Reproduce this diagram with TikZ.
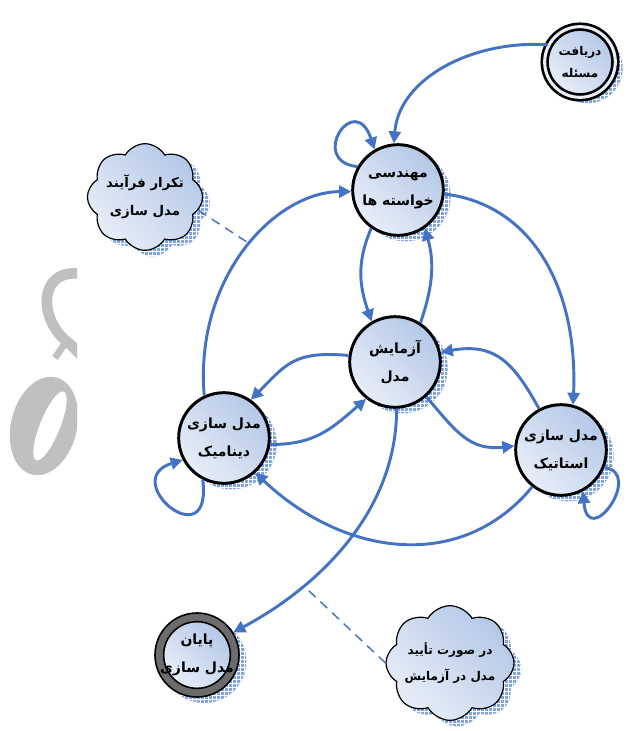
\documentclass[tikz,border=0pt]{standalone}
\usepackage{fontspec}
\newfontfamily\persianfont[Script=Arabic]{DejaVu Sans}
\TeXXeTstate=1
\usetikzlibrary{shapes.symbols, shadows, patterns, arrows.meta}
\newcommand{\fa}[1]{\beginR #1\endR}

\definecolor{flowblue}{RGB}{68,114,196}
\definecolor{nodedark}{RGB}{180,200,231}
\definecolor{nodelight}{RGB}{232,238,248}
\definecolor{shadowblue}{RGB}{132,164,220}
\definecolor{ringgray}{RGB}{108,108,108}
\definecolor{markgray}{RGB}{192,192,192}

\begin{document}
\begin{tikzpicture}[x=0.75pt, y=-0.75pt,
  bluefill/.style={top color=nodedark, bottom color=nodelight, shading angle=-45},
  shadowed/.style={drop shadow={shadow xshift=5.5pt, shadow yshift=-4.5pt, opacity=1,
      fill=shadowblue, postaction={pattern=grid, pattern color=white}}},
  fatext/.style={font=\persianfont\bfseries\fontsize{10.5}{21}\selectfont, align=center, text=black},
  state/.style={circle, draw=black, line width=2.2pt, minimum size=68pt, inner sep=0pt,
      bluefill, shadowed, fatext},
  startstate/.style={circle, draw=black, line width=2pt, double=nodelight, double distance=2.3pt,
      minimum size=53pt, inner sep=0pt, bluefill, shadowed, fatext,
      font=\persianfont\bfseries\fontsize{9}{17}\selectfont},
  cloudbox/.style={cloud, cloud puffs=8, cloud puff arc=120, cloud ignores aspect,
      draw=black, line width=0.9pt, inner sep=0pt, bluefill, shadowed, fatext,
      font=\persianfont\bfseries\fontsize{10}{21}\selectfont},
  arr/.style={draw=flowblue, line width=2.2pt, -{Triangle[length=9pt, width=9pt]}},
  dashline/.style={draw=flowblue, line width=1.1pt, dash pattern=on 7pt off 5pt}
]
% canvas
\fill[white] (0,0) rectangle (627,731);
\useasboundingbox (0,0) rectangle (627,731);

% grey letters at the left edge
\begin{scope}
  \clip (0,250) rectangle (77,500);
  \fill[markgray, rotate around={-14:(44,426)}] (44,426) ellipse (33 and 50);
  \fill[white, rotate around={-22:(50,426)}] (50,426) ellipse (10 and 37);
  \draw[markgray, line width=8pt] (84,274) .. controls (36,266) and (38,322) .. (70,344) -- (86,360);
  \draw[markgray, line width=5pt] (66,342) -- (55,358);
\end{scope}

% states
\node[startstate] (S) at (580,62) {\fa{دریافت}\\\fa{مسئله}};
\node[state] (R) at (398,190) {\fa{مهندسی}\\\fa{خواسته ها}};
\node[state] (T) at (395,362) {\fa{آزمایش}\\\fa{مدل}};
\node[state] (D) at (224,438) {\fa{مدل سازی}\\\fa{دینامیک}};
\node[state] (St) at (561,450) {\fa{مدل سازی}\\\fa{استاتیک}};
% final state: grey ring around a light disc
\node[circle, draw=black, line width=1.2pt, fill=ringgray, minimum size=63pt, shadowed] (E) at (197,655) {};
\node[circle, draw=black, line width=1.2pt, bluefill, minimum size=50pt, inner sep=0pt] (Ein) at (E.center) {};
\node[fatext] (Etext) at (E.center) {\fa{پایان}\\\fa{مدل سازی}};

% notes
\node[cloudbox, minimum width=84pt, minimum height=80pt] (C1) at (145,197) {\fa{تکرار فرآیند}\\\fa{مدل سازی}};
\node[cloudbox, inner xsep=-1pt, minimum width=86pt, minimum height=86pt,
      font=\persianfont\bfseries\fontsize{9}{20}\selectfont] (C2) at (450,663) {\fa{در صورت تأیید}\\\fa{مدل در آزمایش}};
\coordinate (repeatTip) at (250,244);
\coordinate (acceptTip) at (308,590);

% transitions
\draw[arr] (S.152) .. controls +(-75,-5) and +(5,-65) .. (R.95);
\draw[arr] (R.150) .. controls +(-50,-5) and +(-20,-60) .. (R.120);
\draw[arr] (R.235) .. controls +(-15,35) and +(-12,-35) .. (T.120);
\draw[arr] (T.57) .. controls +(12,-35) and +(10,35) .. (R.-55);
\draw[arr] (R.-5) .. controls +(85,10) and +(5,-120) .. (St.75);
\draw[arr] (D.115) .. controls +(-10,-120) and +(-75,0) .. (R.182);
\draw[arr] (T.172) .. controls +(-55,-5) and +(35,-35) .. (D.55);
\draw[arr] (D.-8) .. controls +(45,0) and +(-35,30) .. (T.232);
\draw[arr] (T.-48) .. controls +(30,35) and +(-45,5) .. (St.175);
\draw[arr] (St.118) .. controls +(-25,-45) and +(55,-10) .. (T.12);
\draw[arr] (St.232) .. controls +(-70,85) and +(90,85) .. (D.-48);
\draw[arr] (D.243) .. controls +(10,80) and +(-65,20) .. (D.208);
\draw[arr] (St.-22) .. controls +(40,5) and +(5,60) .. (St.-62);
\draw[arr] (T.-88) .. controls +(0,110) and +(75,-40) .. (E.32);

% note pointers
\draw[dashline] (C1.-14) -- (repeatTip);
\draw[dashline] (C2.west) -- (acceptTip);
\end{tikzpicture}
\end{document}
